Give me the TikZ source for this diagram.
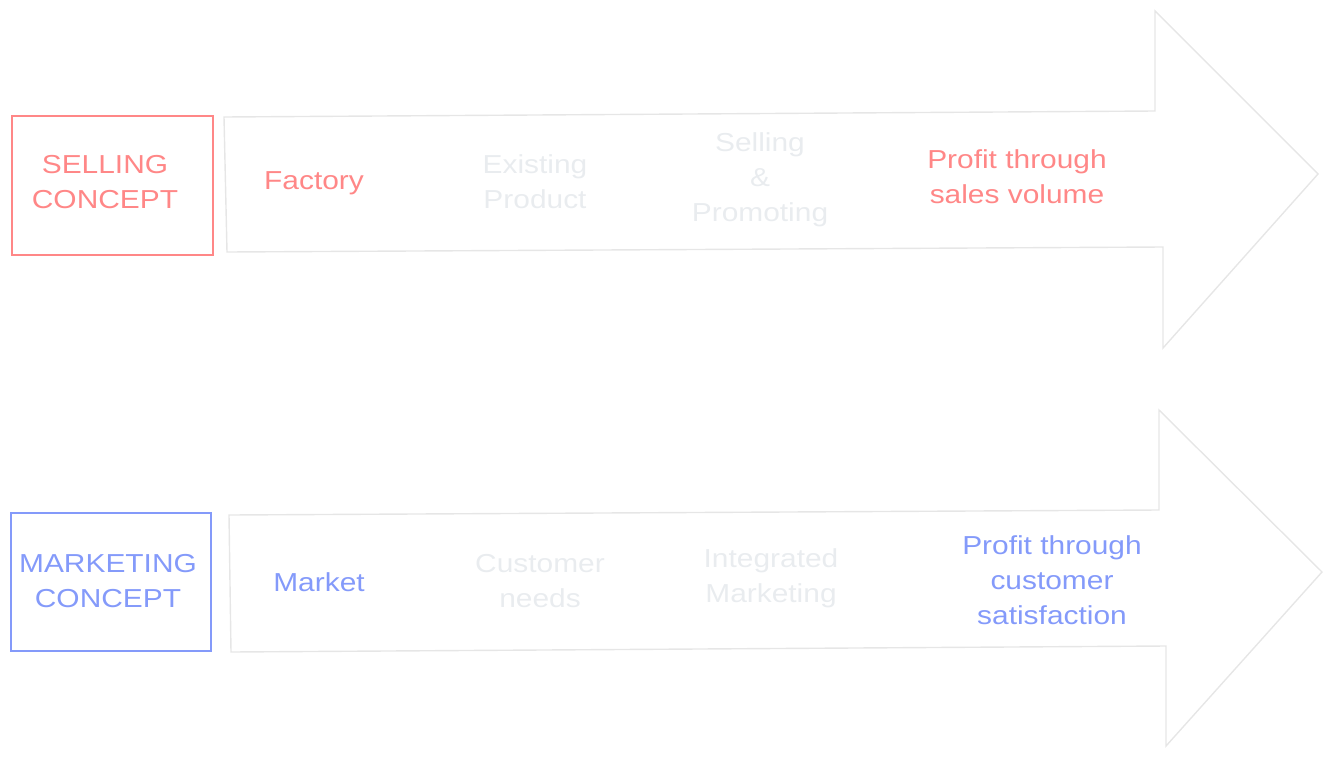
\documentclass[tikz,border=0pt]{standalone}
\usepackage{fontspec}
\setmainfont{Liberation Sans}[FakeStretch=1.15]
\definecolor{redc}{HTML}{FF8787}
\definecolor{bluec}{HTML}{849AFA}
\definecolor{grayt}{HTML}{E9ECEF}
\definecolor{grayl}{HTML}{E6E6E6}
\tikzset{
  lbl/.style={align=center, font=\fontsize{26}{35}\selectfont, inner sep=0pt},
  redt/.style={lbl, text=redc},
  bluet/.style={lbl, text=bluec},
  grayx/.style={lbl, text=grayt},
  arrowshape/.style={draw=grayl, line width=1.4pt, line join=miter},
  conceptbox/.style={draw, line width=1.2pt}
}
\begin{document}
\begin{tikzpicture}[x=1pt,y=-1pt]
\useasboundingbox (0,0) rectangle (1333,758);
% arrows
\draw[arrowshape] (224,117) -- (1155,111) -- (1155,11) -- (1318,174) -- (1163,348) -- (1163,247) -- (227,252) -- cycle;
\draw[arrowshape] (229,515) -- (1159,510) -- (1159,410) -- (1322,572) -- (1166,746) -- (1166,646) -- (231,652) -- cycle;
% boxes
\draw[conceptbox, draw=redc] (12,116) rectangle (213,255);
\draw[conceptbox, draw=bluec] (11,513) rectangle (211,651);
% top row
\node[redt] (sc) at (105,182) {SELLING\\CONCEPT};
\node[redt] (fac) at (314,183) {Factory};
\node[grayx] (ep) at (535,182) {Existing\\Product};
\node[grayx] (sp) at (760,180) {Selling\\\&\\Promoting};
\node[redt] (pt1) at (1017,177) {Profit through\\sales volume};
% bottom row
\node[bluet] (mc) at (108,581) {MARKETING\\CONCEPT};
\node[bluet] (mk) at (319,582) {Market};
\node[grayx] (cn) at (540,581) {Customer\\needs};
\node[grayx] (im) at (771,578) {Integrated\\Marketing};
\node[bluet] (pt2) at (1052,580) {Profit through\\customer\\satisfaction};
\end{tikzpicture}
\end{document}
